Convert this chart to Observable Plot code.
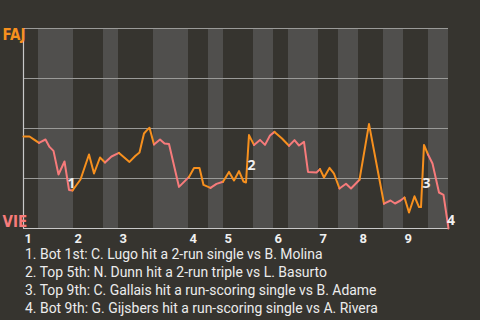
<!DOCTYPE html>
<html>
<head>
<meta charset="utf-8">
<script src="https://cdn.jsdelivr.net/npm/d3@7"></script>
<script src="https://cdn.jsdelivr.net/npm/@observablehq/plot@0.6"></script>
<style>
  html, body { margin: 0; padding: 0; background: #36342f; width: 480px; height: 320px; overflow: hidden; }
  #chart svg { display: block; }
  #notes { margin: 0 0 0 25px; font-family: Roboto, sans-serif; font-size: 14px; color: #ececec; white-space: nowrap; }
  #notes div { line-height: 15px; height: 15px; margin-bottom: 3px; }
  #notes span { display: inline-block; }
</style>
</head>
<body>
<div id="chart"></div>
<div id="notes"></div>
<script>
// Play index (x) and FAJ win probability in % (y)
const playIndex = [0,1.2,2.2,3.1,4.4,5.2,6,7,8.2,9.1,9.8,11.4,13.1,14.1,15.3,16.3,17.6,19.1,21.2,22.4,23.2,24.1,24.7,25.2,26.1,27.3,28.2,29.1,31.1,33.1,34.1,35.2,36,37.4,38.6,39.9,41.1,42.1,43.1,44,44.5,45.1,45.5,46.1,47.3,48.3,49.3,50.2,51.7,53.1,54.2,55.1,56.1,56.9,58.6,59.3,60.1,61.2,62.1,63.2,64.5,65.5,67.2,69.1,72.1,73.4,74.3,75.4,76.2,77.1,78.2,79.1,79.5,80.1,80.9,81.8,83.1,84,85];
const fajWinPct = [46,46,44.3,42.8,44.5,40.8,38.8,27,33.5,19.3,19,24.5,37,27.5,35.5,33,36,37.8,33.3,36.4,38,47.5,49.2,50.4,42,44.5,42.5,42.3,20.8,25.8,30.3,30.3,21.8,20.3,22.3,23.4,28.3,24,28.7,23.5,23,46.7,44.7,41.8,44.3,41.8,46.5,48.3,45,41.4,44.2,41.5,43.3,28.3,28,29.7,25.5,30.3,27.4,20,22.4,20,24.4,52.2,12.4,14,12.5,14,15.5,8,16.1,10.7,10.7,41.8,37,32.5,18,16.8,0];

// Half-inning boundaries (in plays): top 1st, bot 1st, top 2nd, ...
const halfInningStarts = [0,3,10,16,19,26,33,37,40,46,50,53,59,63,67,72,76,81,85];
const innings = ["1","2","3","4","5","6","7","8","9"];
const inningStartPlay = [0,10,19,33,40,50,59,67,76];

const teamTop = "FAJ";
const teamBottom = "VIE";

const eventNumbers = ["1","2","3","4"];
const eventPlay = [9.1,45.1,80.1,85];
const eventLabelPct = [22.5,31.5,22.5,4];
const captions = [
  "1. Bot 1st: C. Lugo hit a 2-run single vs B. Molina",
  "2. Top 5th: N. Dunn hit a 2-run triple vs L. Basurto",
  "3. Top 9th: C. Gallais hit a run-scoring single vs B. Adame",
  "4. Bot 9th: G. Gijsbers hit a run-scoring single vs A. Rivera"
];

const ORANGE = "#f7901e";
const PINK = "#f77b7b";

// bands for the bottom halves (lighter)
const bands = [];
for (let h = 0; h < halfInningStarts.length - 1; h++) {
  if (h % 2 === 1) bands.push({x1: halfInningStarts[h], x2: halfInningStarts[h + 1]});
}
function halfOf(x) {
  for (let h = 0; h < halfInningStarts.length - 1; h++) {
    if (x >= halfInningStarts[h] && x < halfInningStarts[h + 1]) return h;
  }
  return halfInningStarts.length - 2;
}
// build colored runs of the line
const rows = [];
let run = -1, prevHalf = -1;
for (let i = 1; i < playIndex.length; i++) {
  const h = halfOf((playIndex[i - 1] + playIndex[i]) / 2);
  const color = h % 2 === 0 ? ORANGE : PINK;
  if (h !== prevHalf) {
    run++;
    prevHalf = h;
    rows.push({x: playIndex[i - 1], y: fajWinPct[i - 1], run, color});
  }
  rows.push({x: playIndex[i], y: fajWinPct[i], run, color});
}

const events = eventNumbers.map((t, i) => ({t, x: eventPlay[i], y: eventLabelPct[i]}));
const inningRows = innings.map((t, i) => ({t, x: inningStartPlay[i]}));

const chart = Plot.plot({
  width: 480,
  height: 247,
  marginTop: 28,
  marginBottom: 19,
  marginLeft: 23,
  marginRight: 32,
  style: {background: "#36342f"},
  x: {domain: [0, 85], axis: null},
  y: {domain: [0, 100], axis: null},
  color: {type: "identity"},
  marks: [
    Plot.rect(bands, {x1: "x1", x2: "x2", y1: 0, y2: 100, fill: "#504f4d"}),
    Plot.ruleY([25, 50, 75, 100], {stroke: "#9a9a98", strokeWidth: 1}),
    Plot.ruleY([0], {stroke: "#c8c8c8", strokeWidth: 1.2}),
    Plot.ruleX([0], {stroke: "#c8c8c8", strokeWidth: 1.2}),
    Plot.line(rows, {x: "x", y: "y", z: "run", stroke: "color", strokeWidth: 2}),
    Plot.text(events, {x: "x", y: "y", text: "t", dx: 2.5, fill: "#f0f0f0", fontWeight: "bold", fontSize: 14, fontFamily: "Open Sans, sans-serif"}),
    Plot.text(inningRows, {x: "x", y: 0, text: "t", dx: 1, dy: 10.5, textAnchor: "start", fill: "#f0f0f0", fontWeight: "bold", fontSize: 13, fontFamily: "Roboto, sans-serif"}),
    Plot.text([teamTop], {x: 0, y: 100, text: d => d, dx: -21, dy: 1, textAnchor: "start", lineAnchor: "top", fill: ORANGE, fontWeight: "bold", fontSize: 15, fontFamily: "DejaVu Sans Condensed, DejaVu Sans, sans-serif"}),
    Plot.text([teamBottom], {x: 0, y: 0, text: d => d, dx: -21, dy: -2, textAnchor: "start", lineAnchor: "bottom", fill: PINK, fontWeight: "bold", fontSize: 15, fontFamily: "DejaVu Sans Condensed, DejaVu Sans, sans-serif"})
  ]
});
document.getElementById("chart").appendChild(chart);
const notes = document.getElementById("notes");
notes.innerHTML = captions.map(c => `<div><span>${c}</span></div>`).join("");
// fit the caption font so the longest line spans about 353px, as in the reference
const spans = notes.querySelectorAll("span");
let widest = 0;
spans.forEach(s => { widest = Math.max(widest, s.getBoundingClientRect().width); });
if (widest > 0) notes.style.fontSize = (14 * 353 / widest).toFixed(2) + "px";
</script>
</body>
</html>
